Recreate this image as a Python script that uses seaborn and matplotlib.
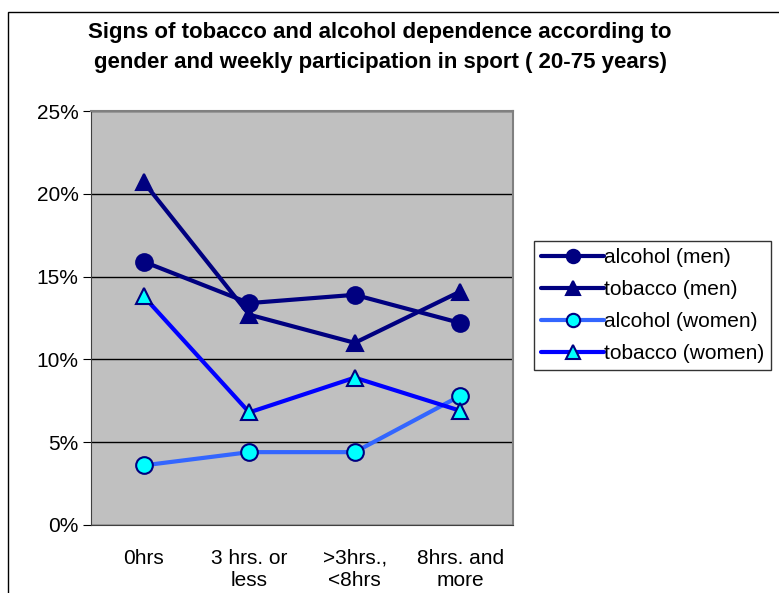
import numpy as np
import pandas as pd
import matplotlib.pyplot as plt
from matplotlib.patches import Rectangle
import seaborn as sns

categories = ['0hrs', '3 hrs. or\nless', '>3hrs.,\n<8hrs', '8hrs. and\nmore']
alcohol_men = [15.9, 13.4, 13.9, 12.2]
tobacco_men = [20.7, 12.7, 11.0, 14.1]
alcohol_women = [3.6, 4.4, 4.4, 7.8]
tobacco_women = [13.8, 6.8, 8.9, 6.9]
series_names = ['alcohol (men)', 'tobacco (men)', 'alcohol (women)', 'tobacco (women)']

sns.set_style('white')
plt.rcParams['font.family'] = ['Liberation Sans', 'DejaVu Sans']
plt.rcParams['text.color'] = 'black'
plt.rcParams['xtick.color'] = 'black'
plt.rcParams['ytick.color'] = 'black'

rows = []
for name, vals in zip(series_names, [alcohol_men, tobacco_men, alcohol_women, tobacco_women]):
    for cat, v in zip(categories, vals):
        rows.append({'cat': cat, 'value': v, 'series': name})
df = pd.DataFrame(rows)

# line colour, marker face, marker
styles = {
    'alcohol (men)': ('#000080', '#000080', 'o'),
    'tobacco (men)': ('#000080', '#000080', '^'),
    'alcohol (women)': ('#3366FF', '#00FFFF', 'o'),
    'tobacco (women)': ('#0000FF', '#00FFFF', '^'),
}

fig = plt.figure(figsize=(7.79, 5.93), dpi=100)
ax = fig.add_axes([91 / 779, 1 - 525 / 593, 422 / 779, 414 / 593])
ax.set_facecolor('#C0C0C0')

for name in series_names:
    lc, fc, mk = styles[name]
    sub = df[df['series'] == name]
    sns.lineplot(data=sub, x='cat', y='value', ax=ax, color=lc, lw=3, marker=mk,
                 markersize=12, markerfacecolor=fc, markeredgecolor='#000080',
                 markeredgewidth=1.5, label=name, sort=False)

ax.set_xlim(-0.5, 3.5)
ax.set_ylim(0, 25)
ax.set_yticks(np.arange(0, 26, 5))
ax.set_yticklabels([f'{t}%' for t in range(0, 26, 5)], fontsize=15)
ax.set_xticks(range(4))
ax.set_xticklabels(categories, fontsize=15, linespacing=1.2)
ax.set_xticks(np.arange(-0.5, 4, 1), minor=True)
ax.tick_params(axis='x', which='major', length=0, pad=17)
ax.tick_params(axis='x', which='minor', length=6, color='black', direction='out')
ax.tick_params(axis='y', length=6, color='black', direction='out', left=True, pad=3)
ax.set_xlabel('')
ax.set_ylabel('')
ax.yaxis.grid(True, color='black', lw=1)
ax.set_axisbelow(True)
for s in ['top', 'right']:
    ax.spines[s].set_color('#808080')
    ax.spines[s].set_linewidth(1.5)
ax.spines['left'].set_color('#404040')
ax.spines['bottom'].set_color('#404040')

leg = ax.legend(loc='center left', bbox_to_anchor=(534 / 779, 1 - 305.5 / 593),
                bbox_transform=fig.transFigure, fontsize=15, frameon=True,
                fancybox=False, edgecolor='black', handlelength=3.0,
                handletextpad=0.0, borderpad=0.35, labelspacing=0.62,
                markerscale=0.8, borderaxespad=0)
leg.get_frame().set_linewidth(1)

fig.text(0.488, 1 - 47.5 / 593, 'Signs of tobacco and alcohol dependence according to\n'
         'gender and weekly participation in sport ( 20-75 years)',
         ha='center', va='center', fontsize=16, fontweight='bold', linespacing=1.6)

fig.patches.append(Rectangle((8 / 779, -0.1), 1.2, 1 - 12 / 593 + 0.1,
                             transform=fig.transFigure, fill=False,
                             edgecolor='black', lw=1))

fig.savefig('out.png', dpi=100)
